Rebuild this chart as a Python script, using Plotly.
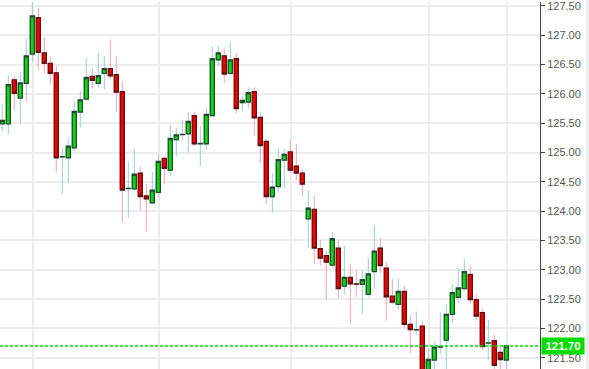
import numpy as np
import plotly.graph_objects as go

# ---- data ----
open_ = [125.49, 125.49, 126.24, 125.93, 126.18, 126.68, 127.30, 126.70, 126.52, 126.36,
         124.925, 124.91, 125.08, 125.69, 125.91, 126.30, 126.18, 126.35, 126.43, 126.33,
         126.04, 124.385, 124.38, 124.65, 124.26, 124.14, 124.32, 124.90, 124.70, 125.22,
         125.305, 125.32, 125.63, 125.15, 125.15, 125.63, 126.58, 126.65, 126.35, 126.60,
         125.85, 125.86, 126.04, 125.60, 125.19, 124.25, 124.42, 124.87, 125.01, 124.77,
         124.65, 123.87, 124.03, 123.36, 123.24, 123.08, 123.37, 122.72, 122.87, 122.76,
         122.75, 122.58, 122.97, 123.37, 123.03, 122.55, 122.41, 122.63, 122.07, 121.975,
         122.04, 121.28, 121.46, 121.68, 121.80, 122.24, 122.53, 122.68, 122.92, 122.49,
         122.27, 121.75, 121.79, 121.59, 121.46]
high = [125.82, 126.31, 126.31, 126.38, 126.95, 127.60, 127.47, 126.97, 126.64, 126.48,
        125.08, 125.25, 125.87, 126.05, 126.61, 126.44, 126.70, 126.64, 126.93, 126.64,
        126.21, 124.85, 125.06, 124.76, 124.47, 124.67, 124.97, 124.94, 125.47, 125.42,
        125.55, 125.69, 125.69, 125.45, 125.77, 126.81, 126.81, 126.77, 126.89, 126.70,
        125.97, 126.11, 126.11, 125.69, 125.23, 124.65, 125.08, 125.06, 125.21, 125.15,
        124.72, 124.35, 124.26, 123.51, 123.33, 123.64, 123.50, 123.41, 123.10, 122.99,
        122.98, 123.20, 123.77, 123.54, 123.13, 122.85, 122.85, 122.72, 122.22, 122.29,
        122.12, 121.66, 121.77, 122.28, 122.41, 122.75, 123.03, 123.19, 123.07, 122.58,
        122.34, 122.15, 121.89, 121.69, 121.73]
low = [125.36, 125.31, 125.72, 125.50, 125.87, 126.55, 126.41, 126.34, 126.17, 124.66,
       124.29, 124.49, 125.02, 125.43, 125.89, 126.09, 126.10, 126.08, 126.25, 125.69,
       123.82, 123.89, 124.36, 124.02, 123.65, 124.12, 124.25, 124.47, 124.60, 124.94,
       125.19, 125.00, 125.11, 124.77, 125.05, 125.62, 126.48, 126.20, 126.33, 125.67,
       125.71, 125.75, 125.29, 124.81, 124.12, 123.98, 124.32, 124.39, 124.65, 124.53,
       124.26, 123.37, 123.10, 123.07, 122.49, 123.03, 122.52, 122.58, 122.08, 122.54,
       122.25, 122.54, 122.68, 122.94, 122.13, 122.41, 122.33, 122.00, 121.58, 121.89,
       121.20, 121.20, 121.30, 121.56, 121.30, 122.09, 122.43, 122.65, 122.42, 122.14,
       121.63, 121.46, 121.30, 121.30, 121.30]
close = [125.55, 126.16, 126.01, 126.19, 126.65, 127.33, 126.71, 126.52, 126.35, 124.91,
         124.93, 125.11, 125.70, 125.90, 126.28, 126.23, 126.31, 126.43, 126.31, 126.03,
         124.36, 124.39, 124.63, 124.25, 124.21, 124.36, 124.85, 124.73, 125.24, 125.30,
         125.31, 125.53, 125.15, 125.155, 125.65, 126.60, 126.70, 126.34, 126.58, 125.75,
         125.89, 126.02, 125.59, 125.12, 124.25, 124.41, 124.88, 124.97, 124.70, 124.65,
         124.46, 124.05, 123.37, 123.20, 123.13, 123.53, 122.68, 122.87, 122.76, 122.755,
         122.83, 122.93, 123.32, 123.07, 122.54, 122.45, 122.63, 122.07, 121.98, 121.98,
         121.28, 121.47, 121.68, 121.685, 122.24, 122.61, 122.69, 122.97, 122.49, 122.21,
         121.69, 121.755, 121.37, 121.47, 121.70]
y_ticks = [121.5, 122.0, 122.5, 123.0, 123.5, 124.0, 124.5, 125.0, 125.5, 126.0,
           126.5, 127.0, 127.5]
vgrid_candles = [5, 26, 48, 71, 84]
last_price = 121.70

# ---- build ----
n = len(close)
x = list(range(n))
o = np.array(open_)
c = np.array(close)
body_hi = np.maximum(o, c)
body_lo = np.minimum(o, c)

fig = go.Figure()
# wicks (light blue / pink)
fig.add_trace(go.Candlestick(
    x=x, open=open_, high=high, low=low, close=close,
    increasing=dict(line=dict(color="#9ccbd2", width=1), fillcolor="#9ccbd2"),
    decreasing=dict(line=dict(color="#f6a2ae", width=1), fillcolor="#f6a2ae"),
    whiskerwidth=0, hoverinfo="skip", showlegend=False))
# bodies with dark outlines
fig.add_trace(go.Candlestick(
    x=x, open=open_, high=body_hi, low=body_lo, close=close,
    increasing=dict(line=dict(color="#1e4f2c", width=1.3), fillcolor="#0fd40f"),
    decreasing=dict(line=dict(color="#5e1212", width=1.3), fillcolor="#f20000"),
    whiskerwidth=0, hoverinfo="skip", showlegend=False))

# last price dotted line
fig.add_shape(type="line", xref="paper", x0=0, x1=1, yref="y", y0=last_price, y1=last_price,
              line=dict(color="#00dd00", width=1.4, dash="3px,2px"), layer="above")
# right edge strip
fig.add_shape(type="rect", xref="paper", x0=586 / 540, x1=592 / 540, yref="paper", y0=-0.01, y1=1.01,
              fillcolor="#ececec", line=dict(width=0), layer="below")

fig.add_annotation(xref="paper", x=541 / 540, xanchor="left", yref="y", y=last_price, yanchor="middle",
                   text="<b>%.2f</b>" % last_price, showarrow=False,
                   font=dict(family="Liberation Sans, Arial", size=11.5, color="white"),
                   bgcolor="#00dd00", width=40, height=14, borderpad=1, align="center")

fig.update_layout(
    width=589, height=369,
    margin=dict(l=0, r=49, t=0, b=0),
    paper_bgcolor="white", plot_bgcolor="white",
    boxmode="overlay", boxgap=0.32, boxgroupgap=0,
    showlegend=False,
    font=dict(family="Liberation Sans, Arial", size=11, color="#555555"),
    xaxis=dict(range=[-0.383, 89.617], rangeslider=dict(visible=False),
               tickmode="array", tickvals=[v + 0.17 for v in vgrid_candles],
               showticklabels=False, ticks="", showgrid=True, gridcolor="#ececec", gridwidth=1.5,
               zeroline=False, showline=False, fixedrange=True),
    yaxis=dict(side="right", range=[121.308, 127.568],
               tickmode="array", tickvals=y_ticks, ticktext=["%.2f" % v for v in y_ticks],
               ticks="outside", ticklen=4, tickcolor="#444444", tickwidth=1,
               showline=True, linecolor="#444444", linewidth=1,
               showgrid=True, gridcolor="#ececec", gridwidth=1.5, zeroline=False,
               ticklabeloverflow="allow",
               tickfont=dict(size=11, color="#555555"), fixedrange=True),
)

fig.write_html("out.html")
